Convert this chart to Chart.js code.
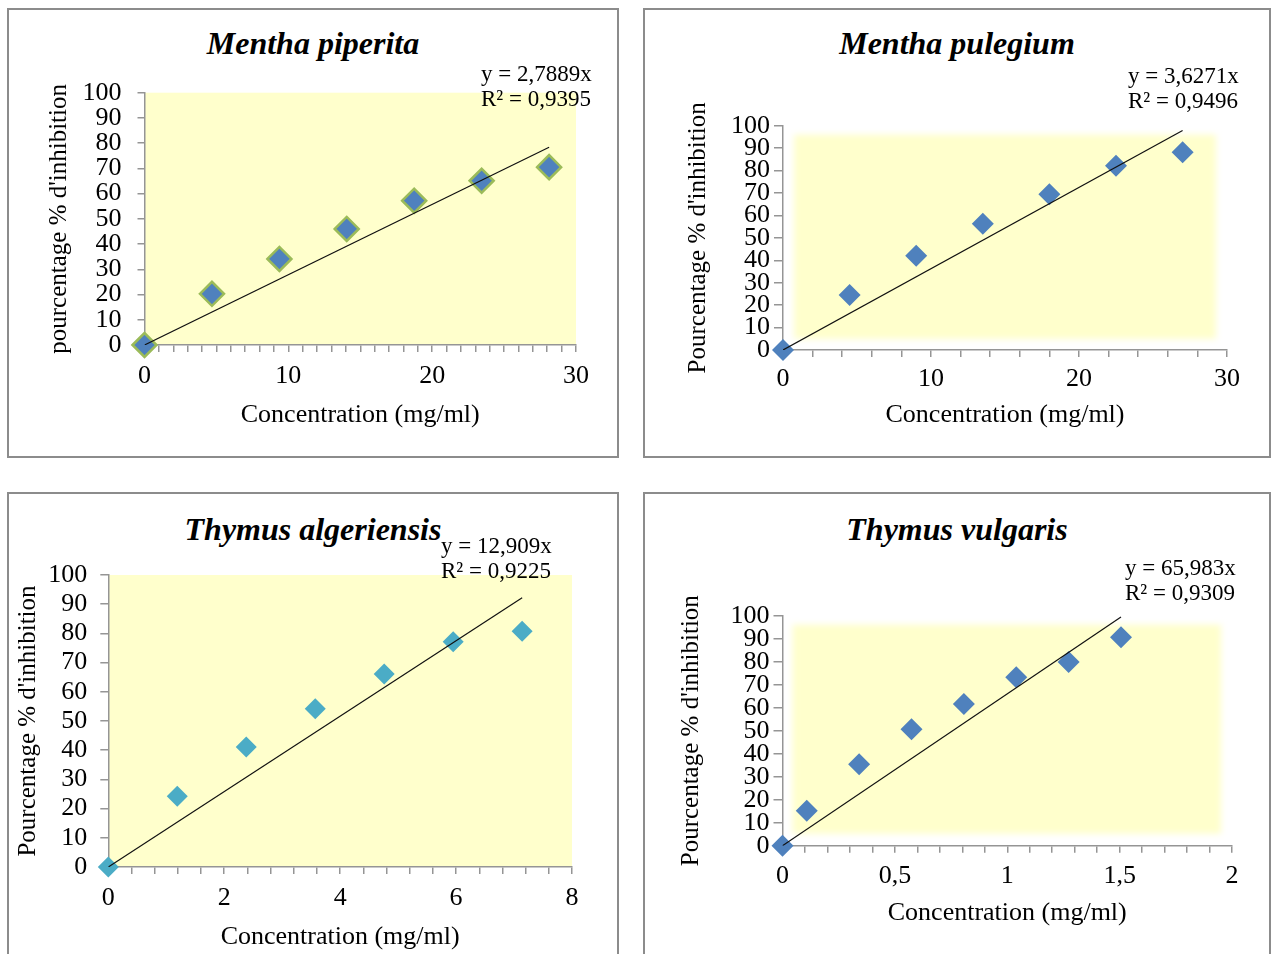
<!DOCTYPE html>
<html>
<head>
<meta charset="utf-8">
<script src="https://cdn.jsdelivr.net/npm/chart.js@4.4.0/dist/chart.umd.min.js"></script>
<style>
  html, body { margin: 0; padding: 0; background: #fff; }
  body { width: 1273px; height: 954px; position: relative; overflow: hidden;
         font-family: 'Liberation Serif', 'Times New Roman', serif; }
  .panel { position: absolute; border: 2px solid #8c8c8c; box-sizing: border-box; background: #fff; }
  .panel canvas { position: absolute; left: 0; top: 0; }
  .ptitle { position: absolute; left: 0; right: 0; text-align: center; color: #000;
            font: italic bold 32px 'Liberation Serif', serif; line-height: 36px; }
  .eq { position: absolute; font-size: 23px; line-height: 25px; color: #000; white-space: pre; }
</style>
</head>
<body>

<div class="panel" style="left:7px;top:8px;width:612px;height:450px">
  <div class="ptitle" style="top:15px">Mentha piperita</div>
  <canvas id="c1" width="608" height="446"></canvas>
  <div class="eq" style="left:472px;top:51px">y = 2,7889x
R² = 0,9395</div>
</div>

<div class="panel" style="left:643px;top:8px;width:628px;height:450px">
  <div class="ptitle" style="top:15px">Mentha pulegium</div>
  <canvas id="c2" width="624" height="446"></canvas>
  <div class="eq" style="left:483px;top:53px">y = 3,6271x
R² = 0,9496</div>
</div>

<div class="panel" style="left:7px;top:492px;width:612px;height:480px">
  <div class="ptitle" style="top:17px">Thymus algeriensis</div>
  <canvas id="c3" width="608" height="470"></canvas>
  <div class="eq" style="left:432px;top:39px">y = 12,909x
R² = 0,9225</div>
</div>

<div class="panel" style="left:643px;top:492px;width:628px;height:480px">
  <div class="ptitle" style="top:17px">Thymus vulgaris</div>
  <canvas id="c4" width="624" height="470"></canvas>
  <div class="eq" style="left:480px;top:61px">y = 65,983x
R² = 0,9309</div>
</div>

<script>
// ===== DATA =====
// Mentha piperita
const piperitaX   = [0, 4.69, 9.38, 14.06, 18.75, 23.44, 28.13];
const piperitaY   = [0, 20.3, 34.1, 46.0, 57.2, 65.1, 70.5];
const piperitaFitX = [0, 28.13];
const piperitaFitY = [0, 78.4];

// Mentha pulegium
const pulegiumX   = [0, 4.5, 9, 13.5, 18, 22.5, 27];
const pulegiumY   = [0, 24.5, 42.0, 56.3, 69.4, 82.2, 88.2];
const pulegiumFitX = [0, 27];
const pulegiumFitY = [0, 97.9];

// Thymus algeriensis
const algeriensisX   = [0, 1.19, 2.38, 3.57, 4.76, 5.95, 7.14];
const algeriensisY   = [0, 24.2, 41.1, 54.2, 66.1, 77.1, 80.7];
const algeriensisFitX = [0, 7.14];
const algeriensisFitY = [0, 92.2];

// Thymus vulgaris
const vulgarisX   = [0, 0.108, 0.341, 0.574, 0.807, 1.04, 1.273, 1.506];
const vulgarisY   = [0, 15.2, 35.4, 50.6, 61.6, 73.2, 79.9, 90.6];
const vulgarisFitX = [0, 1.506];
const vulgarisFitY = [0, 99.4];

const yTicks = [0, 10, 20, 30, 40, 50, 60, 70, 80, 90, 100];

// ===== STYLE =====
const SERIF = "'Liberation Serif', 'Times New Roman', serif";
const AXIS  = '#959595';
const YELLOW = '#ffffcc';

const zip = (xs, ys) => xs.map((x, i) => ({ x, y: ys[i] }));
const fmtX = v => String(+v.toFixed(4)).replace('.', ',');

// yellow plot background (optionally inset with soft edges)
const plotBg = {
  id: 'plotBg',
  beforeDraw(chart, args, opts) {
    const { ctx, chartArea: a } = chart;
    const ins = opts.inset || { l: 0, r: 0, t: 0, b: 0 };
    ctx.save();
    if (opts.blur) ctx.filter = `blur(${opts.blur}px)`;
    ctx.fillStyle = opts.color || YELLOW;
    ctx.fillRect(a.left + ins.l, a.top + ins.t,
                 a.right - a.left - ins.l - ins.r, a.bottom - a.top - ins.t - ins.b);
    ctx.restore();
  }
};

function makeChart(id, p) {
  const canvas = document.getElementById(id);
  const W = canvas.width, H = canvas.height;
  return new Chart(canvas, {
    type: 'scatter',
    data: {
      datasets: [
        {
          type: 'line',
          data: zip(p.fitX, p.fitY),
          borderColor: '#111',
          borderWidth: 1.2,
          pointRadius: 0,
          fill: false,
          order: 0,
        },
        {
          data: zip(p.xs, p.ys),
          pointStyle: 'rectRot',
          pointRadius: p.radius,
          backgroundColor: p.color,
          borderColor: p.edge || p.color,
          borderWidth: p.edgeWidth || 0,
          clip: false,
          order: 1,
        }
      ]
    },
    options: {
      responsive: false,
      animation: false,
      layout: { padding: { left: 0, top: p.plot.top, right: W - p.plot.right, bottom: 0 } },
      plugins: {
        legend: { display: false },
        tooltip: { enabled: false },
        plotBg: p.bg,
      },
      scales: {
        x: {
          type: 'linear',
          min: 0, max: p.xMax,
          afterFit: s => { s.height = H - p.plot.bottom; },
          border: { color: AXIS, width: 1.5 },
          grid: { drawOnChartArea: false, tickLength: 7, color: AXIS, lineWidth: 1.5 },
          ticks: {
            stepSize: p.xStep,
            autoSkip: false,
            maxRotation: 0,
            padding: p.xPad,
            color: '#000',
            font: { family: SERIF, size: 26 },
            callback: v => {
              const k = v / p.xMajor;
              return Math.abs(k - Math.round(k)) < 1e-6 ? fmtX(v) : '';
            }
          },
          title: {
            display: true,
            text: 'Concentration (mg/ml)',
            color: '#000',
            font: { family: SERIF, size: 26 },
            padding: { top: 0, bottom: p.xTitlePad }
          }
        },
        y: {
          min: 0, max: 100,
          afterBuildTicks: s => { s.ticks = yTicks.map(v => ({ value: v })); },
          afterFit: s => { s.width = p.plot.left; },
          border: { color: AXIS, width: 1.5 },
          grid: { drawOnChartArea: false, tickLength: p.yTick, color: AXIS, lineWidth: 1.5 },
          ticks: {
            autoSkip: false,
            padding: p.yPad,
            color: '#000',
            font: { family: SERIF, size: 26 },
          },
          title: {
            display: true,
            text: p.yTitle,
            color: '#000',
            font: { family: SERIF, size: 25 },
            padding: { top: p.yTitlePad, bottom: 0 }
          }
        }
      }
    },
    plugins: [plotBg]
  });
}

makeChart('c1', {
  xs: piperitaX, ys: piperitaY, fitX: piperitaFitX, fitY: piperitaFitY,
  color: '#4f81bd', edge: '#9bbb59', edgeWidth: 2.5, radius: 12,
  xMax: 30, xStep: 1, xMajor: 10,
  plot: { left: 135.5, right: 567, top: 82.7, bottom: 335 },
  xPad: 9, xTitlePad: 25.4, yTick: 7, yPad: 16, yTitlePad: 35,
  yTitle: "pourcentage % d'inhibition",
  bg: { color: YELLOW }
});

makeChart('c2', {
  xs: pulegiumX, ys: pulegiumY, fitX: pulegiumFitX, fitY: pulegiumFitY,
  color: '#4f81bd', radius: 11,
  xMax: 30, xStep: 2, xMajor: 10,
  plot: { left: 138, right: 582, top: 115.7, bottom: 340 },
  xPad: 6.4, xTitlePad: 25.4, yTick: 9, yPad: 4, yTitlePad: 38,
  yTitle: "Pourcentage % d'inhibition",
  bg: { color: YELLOW, inset: { l: 11, r: 11, t: 9, b: 11 }, blur: 3 }
});

makeChart('c3', {
  xs: algeriensisX, ys: algeriensisY, fitX: algeriensisFitX, fitY: algeriensisFitY,
  color: '#4bacc6', radius: 10.5,
  xMax: 8, xStep: 0.4, xMajor: 2,
  plot: { left: 99.3, right: 563, top: 81, bottom: 373 },
  xPad: 8.4, xTitlePad: 11.4, yTick: 8, yPad: 13, yTitlePad: 4,
  yTitle: "Pourcentage % d'inhibition",
  bg: { color: YELLOW }
});

makeChart('c4', {
  xs: vulgarisX, ys: vulgarisY, fitX: vulgarisFitX, fitY: vulgarisFitY,
  color: '#4f81bd', radius: 11,
  xMax: 2, xStep: 0.1, xMajor: 0.5,
  plot: { left: 137.5, right: 587, top: 121.7, bottom: 351.7 },
  xPad: 7.4, xTitlePad: 35.4, yTick: 9, yPad: 4, yTitlePad: 31,
  yTitle: "Pourcentage % d'inhibition",
  bg: { color: YELLOW, inset: { l: 10, r: 11, t: 9, b: 12 }, blur: 3 }
});
</script>
</body>
</html>
